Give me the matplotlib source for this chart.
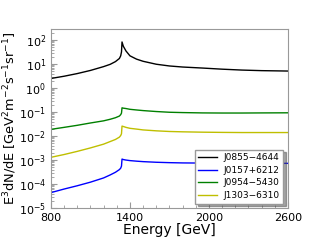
import numpy as np
import matplotlib
matplotlib.use("Agg")
import matplotlib.pyplot as plt

# energies in GeV (shared grid for all sources)
energy = [800, 900, 1000, 1100, 1200, 1250, 1290, 1320, 1330, 1336, 1340,
          1350, 1370, 1400, 1450, 1500, 1600, 1700, 1800, 1950, 2100, 2250,
          2400, 2600]

# E^3 dN/dE values
j0855 = [2.5, 3.1, 4.0, 5.4, 7.8, 9.7, 12.6, 17.0, 22.0, 32.0, 83.0,
         55.0, 35.0, 22.0, 16.0, 13.0, 9.8, 8.3, 7.5, 6.8, 6.1, 5.6,
         5.3, 5.1]
j0157 = [4.4e-5, 6.2e-5, 8.5e-5, 1.2e-4, 1.8e-4, 2.4e-4, 3.1e-4, 4.0e-4, 4.6e-4, 5.6e-4, 1.1e-3,
         1.05e-3, 1.0e-3, 9.5e-4, 9.0e-4, 8.6e-4, 8.1e-4, 7.8e-4, 7.6e-4, 7.5e-4, 7.4e-4, 7.3e-4,
         7.3e-4, 7.3e-4]
j0954 = [0.019, 0.023, 0.028, 0.035, 0.043, 0.050, 0.058, 0.068, 0.078, 0.090, 0.15,
         0.145, 0.14, 0.13, 0.122, 0.115, 0.105, 0.098, 0.095, 0.092, 0.091, 0.091,
         0.092, 0.093]
j1303 = [1.3e-3, 1.7e-3, 2.3e-3, 3.2e-3, 4.6e-3, 5.9e-3, 7.2e-3, 9.0e-3, 0.0105, 0.0125, 0.026,
         0.025, 0.023, 0.021, 0.0195, 0.018, 0.0165, 0.0155, 0.015, 0.0145, 0.0142, 0.014,
         0.014, 0.014]

labels = ["J0855\u22124644", "J0157+6212", "J0954\u22125430", "J1303\u22126310"]
series = [j0855, j0157, j0954, j1303]
colors = ["k", "b", "g", "y"]

fig = plt.figure(figsize=(3.2, 2.4), dpi=100)
ax = fig.add_axes([0.159, 0.133, 0.741, 0.748])

for vals, lab, c in zip(series, labels, colors):
    ax.plot(energy, vals, color=c, lw=1.0, label=lab)

ax.set_yscale("log")
ax.set_xlim(800, 2600)
ax.set_ylim(1e-5, 3e2)
ax.set_xticks([800, 1400, 2000, 2600])
ax.set_xticks(np.arange(800, 2601, 100), minor=True)

for sp in ax.spines.values():
    sp.set_color("#999999")
ax.tick_params(which="both", direction="in", color="#999999", labelsize=8)
ax.tick_params(which="major", length=4)
ax.tick_params(which="minor", length=2)

ax.set_xlabel("Energy [GeV]", fontsize=10, labelpad=0)
ax.set_ylabel(r"E$^3$dN/dE [GeV$^2$m$^{-2}$s$^{-1}$sr$^{-1}$]", fontsize=9.3, labelpad=0)

leg = ax.legend(loc="lower right", fontsize=6.5, fancybox=False, shadow=True,
                framealpha=1, edgecolor="#999999", handlelength=2.0,
                borderpad=0.4, labelspacing=0.4)

fig.savefig("out.png", dpi=100)
